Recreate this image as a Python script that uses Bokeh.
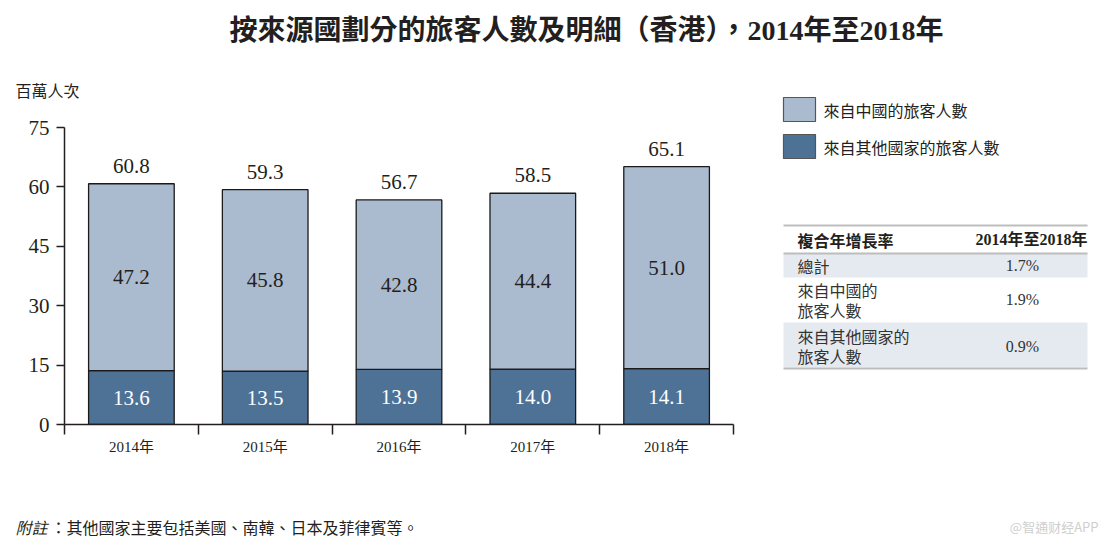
from bokeh.plotting import figure
from bokeh.models import ColumnDataSource, Range1d, FixedTicker, Title
from bokeh.layouts import column, row
from bokeh.core.properties import value
from bokeh.embed import file_html
from bokeh.resources import INLINE

# ---- data ----
years = ["2014年", "2015年", "2016年", "2017年", "2018年"]
china = [47.2, 45.8, 42.8, 44.4, 51.0]
other = [13.6, 13.5, 13.9, 14.0, 14.1]
total = [60.8, 59.3, 56.7, 58.5, 65.1]
y_ticks = [0, 15, 30, 45, 60, 75]
series_names = ["來自中國的旅客人數", "來自其他國家的旅客人數"]
cagr_header = ["複合年增長率", "2014年至2018年"]
cagr_rows = [["總計"], ["來自中國的", "旅客人數"], ["來自其他國家的", "旅客人數"]]
cagr_values = ["1.7%", "1.9%", "0.9%"]
title_text = "按來源國劃分的旅客人數及明細（香港），2014年至2018年"
y_title = "百萬人次"
note_head = "附註"
note_body = "：其他國家主要包括美國、南韓、日本及菲律賓等。"
watermark = "@智通财经APP"

SERIF = "'Liberation Serif', 'Noto Sans CJK TC'"
CJK = "'Noto Sans CJK TC'"
INK = "#231F20"
LIGHT = "#AABBD0"
DARK = "#4E7296"
series_colors = [LIGHT, DARK]

TOTAL_W = 1100
TITLE_H = 48
ROW_TOP = TITLE_H
MAIN_H = 480 - ROW_TOP
NOTE_H = 66
LEFT_W = 740
RIGHT_W = TOTAL_W - LEFT_W
FRAME_TOP, FRAME_BOTTOM = 127, 424


def blank(w, h, y0=0):
    f = figure(width=w, height=h, output_backend="svg", toolbar_location=None,
               x_range=Range1d(0, w), y_range=Range1d(y0 + h, y0),
               min_border=0, x_axis_location=None, y_axis_location=None)
    f.outline_line_color = None
    f.xgrid.visible = False
    f.ygrid.visible = False
    return f


def txt(f, x, y, t, size, font=CJK, style="normal", align="left", color=INK):
    f.text(x=[x], y=[y], text=[t], text_font=value(font), text_font_size=size,
           text_font_style=style, text_align=align, text_baseline="middle",
           text_color=color)


# ---- title strip ----
pt = blank(TOTAL_W, TITLE_H)
txt(pt, 586, 30, title_text, "28px", font=SERIF, style="bold", align="center")

# ---- main chart ----
xs = [i + 0.5 for i in range(len(years))]
src = ColumnDataSource(dict(
    x=xs, china=china, other=other, total=total,
    top=[o + c for o, c in zip(other, china)],
    china_mid=[o + c / 2 for o, c in zip(other, china)],
    other_mid=[o / 2 for o in other],
    china_lbl=[f"{v:.1f}" for v in china],
    other_lbl=[f"{v:.1f}" for v in other],
    total_lbl=[f"{v:.1f}" for v in total],
))

p = figure(width=LEFT_W, height=MAIN_H, output_backend="svg", toolbar_location=None,
           x_range=Range1d(0, 5), y_range=Range1d(0, 75),
           min_border_left=64, min_border_right=LEFT_W - 64 - 669,
           min_border_top=FRAME_TOP - ROW_TOP,
           min_border_bottom=ROW_TOP + MAIN_H - FRAME_BOTTOM)
p.outline_line_color = None
p.xgrid.visible = False
p.ygrid.visible = False

r_other = p.vbar(x="x", bottom=0, top="other", width=0.64, source=src,
                 fill_color=DARK, line_color="#1a1a1a", line_width=1.3)
r_china = p.vbar(x="x", bottom="other", top="top", width=0.64, source=src,
                 fill_color=LIGHT, line_color="#1a1a1a", line_width=1.3)

p.text(x="x", y="total", text="total_lbl", source=src, text_align="center",
       text_baseline="bottom", y_offset=-11, text_font=value(SERIF),
       text_font_size="21px", text_color=INK)
p.text(x="x", y="china_mid", text="china_lbl", source=src, text_align="center",
       text_baseline="middle", text_font=value(SERIF),
       text_font_size="21px", text_color=INK)
p.text(x="x", y="other_mid", text="other_lbl", source=src, text_align="center",
       text_baseline="middle", text_font=value(SERIF),
       text_font_size="21px", text_color="white")

ya = p.yaxis[0]
ya.ticker = FixedTicker(ticks=y_ticks, minor_ticks=[])
ya.major_tick_out = 8
ya.major_tick_in = 0
ya.minor_tick_out = 0
ya.major_label_standoff = 7
ya.major_label_text_font = SERIF
ya.major_label_text_font_size = "21px"
ya.major_label_text_color = INK
ya.axis_line_color = INK
ya.axis_line_width = 1.5
ya.major_tick_line_color = INK
ya.major_tick_line_width = 1.5

xa = p.xaxis[0]
xa.ticker = FixedTicker(ticks=xs, minor_ticks=list(range(len(years) + 1)))
xa.major_label_overrides = {x: y for x, y in zip(xs, years)}
xa.major_tick_out = 0
xa.major_tick_in = 0
xa.minor_tick_out = 10
xa.minor_tick_in = 0
xa.minor_tick_line_color = INK
xa.minor_tick_line_width = 1.5
xa.major_label_standoff = 4
xa.major_label_text_font = SERIF
xa.major_label_text_font_size = "15px"
xa.major_label_text_color = INK
xa.axis_line_color = INK
xa.axis_line_width = 1.5

p.add_layout(Title(text=y_title, align="left", offset=-49, standoff=52,
                   text_font=CJK, text_font_size="16px", text_font_style="normal",
                   text_color=INK), "above")

# ---- right side: legend + CAGR table (data y = page pixel y) ----
pr = blank(RIGHT_W, MAIN_H, y0=ROW_TOP)
sw_top = [97, 134]
pr.quad(left=[43, 43], right=[75, 75], top=sw_top, bottom=[t + 24 for t in sw_top],
        fill_color=series_colors, line_color="#555555", line_width=1.2)
for name, t in zip(series_names, sw_top):
    txt(pr, 83, t + 12, name, "16px")

TL, TR = 43, 347
shade = "#E5EAF0"
pr.quad(left=[TL, TL], right=[TR, TR], top=[253, 322], bottom=[277, 367],
        fill_color=shade, line_color=None)
pr.segment(x0=[TL] * 3, x1=[TR] * 3, y0=[225, 253, 368], y1=[225, 253, 368],
           line_color="#BDBDBD", line_width=2)
txt(pr, 57, 239, cagr_header[0], "16px", style="bold")
txt(pr, TR, 239, cagr_header[1], "16px", font=SERIF, style="bold", align="right")
row_lines_y = [[265], [289, 309], [335, 355]]
row_val_y = [265, 299, 346]
for lines, ys, v, vy in zip(cagr_rows, row_lines_y, cagr_values, row_val_y):
    for t, yy in zip(lines, ys):
        txt(pr, 57, yy, t, "16px", color="#333333")
    txt(pr, 282, vy, v, "16px", font=SERIF, align="center", color="#333333")

# ---- footnote strip ----
pn = blank(TOTAL_W, NOTE_H)
txt(pn, 15, 46, note_head, "16px", style="italic")
txt(pn, 50, 46, note_body, "16px")
txt(pn, 1098, 46, watermark, "13px", align="right", color="#CFCFCF")

layout = column(pt, row(column(p), column(pr)), pn)
open("out.html", "w").write(file_html(layout, INLINE))
